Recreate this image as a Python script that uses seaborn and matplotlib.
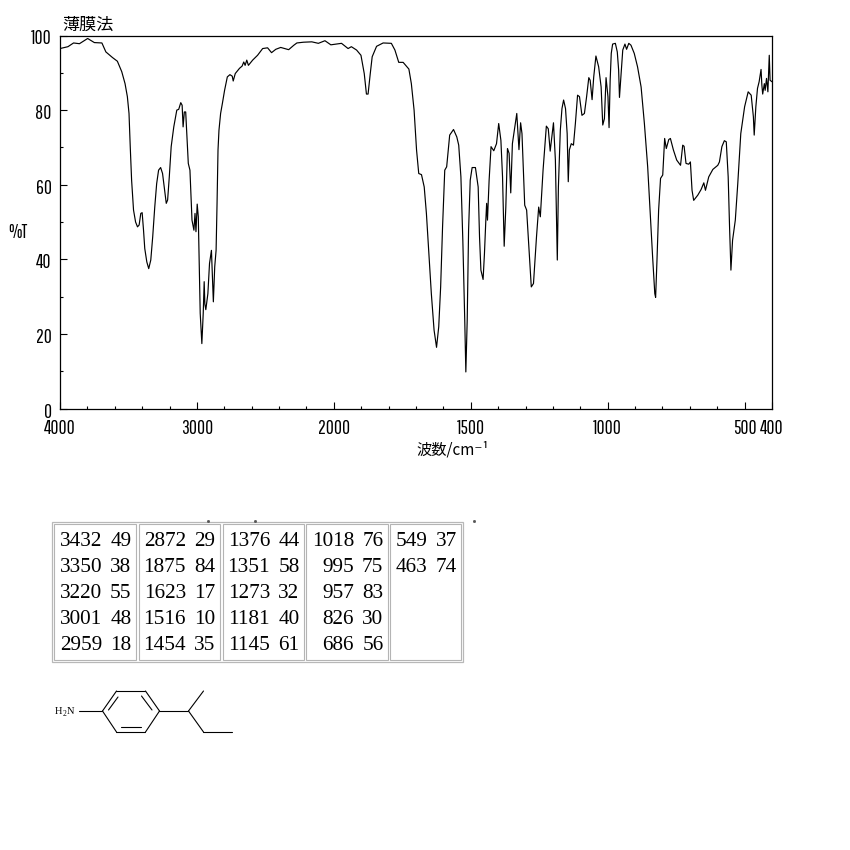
import numpy as np
import pandas as pd
import matplotlib
matplotlib.use("Agg")
import matplotlib.pyplot as plt
from matplotlib.patches import Rectangle
from matplotlib.ticker import FixedLocator, FixedFormatter
from matplotlib.transforms import ScaledTranslation
import seaborn as sns

# spectrum
wavenumber = [
    4000, 3942, 3901, 3858, 3798, 3749, 3694, 3665, 3617, 3581, 3549, 3525, 3508, 3496, 3487, 3477,
    3463, 3448, 3434, 3422, 3410, 3400, 3390, 3381, 3366, 3352, 3337, 3323, 3308, 3294, 3280, 3265,
    3251, 3236, 3224, 3214, 3202, 3188, 3169, 3147, 3133, 3118, 3108, 3101, 3092, 3082, 3072, 3063,
    3051, 3036, 3022, 3014, 3007, 2998, 2990, 2983, 2976, 2964, 2954, 2947, 2942, 2935, 2920, 2908,
    2894, 2887, 2880, 2870, 2860, 2853, 2846, 2839, 2827, 2814, 2798, 2778, 2759, 2742, 2735, 2720,
    2689, 2670, 2658, 2648, 2636, 2624, 2593, 2557, 2520, 2484, 2455, 2424, 2388, 2330, 2292, 2270,
    2222, 2161, 2113, 2065, 2022, 1972, 1948, 1936, 1917, 1901, 1889, 1881, 1875, 1867, 1860, 1844,
    1820, 1790, 1777, 1763, 1747, 1726, 1717, 1707, 1698, 1690, 1680, 1670, 1662, 1653, 1644, 1634,
    1625, 1617, 1610, 1603, 1595, 1588, 1577, 1563, 1551, 1544, 1536, 1529, 1522, 1518, 1513, 1508,
    1502, 1495, 1483, 1473, 1468, 1463, 1455, 1450, 1445, 1442, 1439, 1433, 1426, 1416, 1406, 1398,
    1390, 1384, 1378, 1372, 1366, 1360, 1354, 1348, 1332, 1324, 1318, 1313, 1303, 1296, 1288, 1279,
    1271, 1260, 1252, 1246, 1236, 1224, 1217, 1210, 1198, 1191, 1184, 1180, 1173, 1167, 1161, 1154,
    1148, 1144, 1140, 1133, 1125, 1118, 1110, 1103, 1094, 1085, 1077, 1069, 1064, 1057, 1051, 1043,
    1033, 1024, 1018, 1012, 1006, 999, 995, 991, 987, 982, 972, 965, 960, 957, 950, 945,
    937, 931, 923, 915, 903, 891, 878, 866, 854, 844, 836, 828, 825, 820, 814, 807,
    799, 792, 786, 777, 771, 760, 748, 734, 726, 721, 714, 704, 698, 692, 686, 671,
    659, 649, 643, 631, 616, 598, 592, 583, 574, 567, 560, 555, 550, 544, 534, 525,
    514, 500, 487, 476, 468, 465, 459, 453, 447, 440, 437, 434, 428, 425, 420, 415,
    410, 407, 400,
]
transmittance = [
    96.5, 97.0, 98.0, 97.8, 99.2, 98.1, 98.0, 95.6, 94.1, 93.1, 90.3, 87.1, 83.6, 79.1, 70.2, 61.2,
    53.2, 50.0, 48.7, 49.2, 52.3, 52.5, 47.8, 42.9, 39.3, 37.5, 39.8, 46.0, 54.0, 60.3, 63.9, 64.6,
    63.0, 58.5, 55.0, 55.9, 62.0, 70.2, 75.5, 80.0, 80.2, 82.0, 81.3, 75.5, 79.5, 79.5, 72.0, 65.7,
    63.9, 50.5, 47.8, 52.3, 47.4, 54.8, 51.4, 38.9, 25.5, 17.4, 25.5, 34.0, 28.0, 26.5, 30.8, 38.9,
    42.4, 35.3, 28.6, 38.0, 42.4, 55.0, 69.3, 74.6, 79.1, 81.8, 85.3, 88.9, 89.5, 89.1, 87.8, 89.8,
    91.2, 91.8, 92.9, 92.0, 93.4, 92.0, 93.4, 94.7, 96.5, 96.7, 95.4, 96.3, 96.8, 96.2, 97.4, 98.0,
    98.2, 98.3, 97.9, 98.6, 97.5, 97.9, 96.5, 97.0, 96.1, 94.7, 89.8, 84.3, 84.3, 89.8, 94.3, 97.1,
    98.0, 97.9, 96.1, 92.8, 92.8, 91.0, 87.1, 80.0, 69.3, 63.0, 62.7, 59.4, 52.3, 41.6, 30.8, 21.0,
    16.4, 21.9, 32.6, 48.7, 63.9, 64.8, 73.3, 74.8, 72.8, 70.6, 62.1, 45.1, 23.7, 9.8, 23.7, 47.8,
    61.2, 64.6, 64.6, 59.4, 46.0, 37.1, 34.6, 41.6, 50.5, 55.0, 50.5, 61.2, 70.2, 69.1, 71.0, 76.4,
    71.9, 62.1, 43.5, 54.0, 69.7, 68.4, 57.8, 71.0, 79.1, 69.4, 76.6, 73.7, 54.5, 53.2, 43.3, 32.6,
    33.5, 46.0, 54.0, 51.4, 63.9, 75.7, 75.0, 69.0, 76.6, 66.6, 39.8, 59.4, 74.6, 80.4, 82.7, 80.4,
    73.7, 60.8, 69.3, 71.0, 70.6, 76.4, 84.0, 83.6, 78.6, 79.1, 83.6, 88.7, 88.0, 82.8, 88.9, 94.5,
    91.6, 86.2, 76.0, 77.7, 88.7, 83.6, 75.3, 88.0, 95.2, 97.7, 97.9, 95.6, 90.7, 83.4, 90.7, 96.1,
    97.7, 96.3, 97.9, 97.4, 95.2, 91.6, 86.2, 76.4, 64.8, 51.4, 40.7, 30.8, 29.8, 39.8, 53.2, 61.7,
    62.6, 72.4, 69.7, 72.1, 72.4, 69.3, 66.6, 65.2, 70.6, 70.3, 65.7, 65.5, 66.1, 58.5, 55.8, 57.2,
    58.7, 60.5, 58.5, 62.1, 64.1, 65.2, 66.1, 70.2, 71.8, 71.5, 62.1, 48.7, 37.1, 45.1, 50.5, 60.3,
    73.7, 80.9, 84.9, 84.0, 78.2, 73.3, 80.9, 85.8, 87.6, 90.9, 86.7, 84.3, 87.1, 85.3, 88.5, 84.9,
    94.7, 88.0, 87.6,
]

x_major = [4000, 3000, 2000, 1500, 1000, 500, 400]
x_major_labels = ["4000", "3000", "2000", "1500", "1000", "500", "400"]
y_major = [0, 20, 40, 60, 80, 100]

# peak table, one list per column block
peak_wavenumbers = [
    [3432, 3350, 3220, 3001, 2959],
    [2872, 1875, 1623, 1516, 1454],
    [1376, 1351, 1273, 1181, 1145],
    [1018, 995, 957, 826, 686],
    [549, 463],
]
peak_values = [
    [49, 38, 55, 48, 18],
    [29, 84, 17, 10, 35],
    [44, 58, 32, 40, 61],
    [76, 75, 83, 30, 56],
    [37, 74],
]

sns.set_theme(style="white")
plt.rcParams["font.family"] = ["Pathway Gothic One", "Liberation Sans", "DejaVu Sans"]
cjk = ["Noto Sans CJK JP", "DejaVu Sans"]

df = pd.DataFrame({"wavenumber": wavenumber, "T": transmittance})


# the axis is compressed by two above 2000 cm-1
def forward(w):
    w = np.asarray(w, dtype=float)
    return np.where(w > 2000, 2000 + (w - 2000) / 2, w)


def inverse(v):
    v = np.asarray(v, dtype=float)
    return np.where(v > 2000, 2000 + (v - 2000) * 2, v)


fig = plt.figure(figsize=(8.5, 8.5), dpi=100)
ax = fig.add_axes([60 / 850, 1 - 408.5 / 850, 712 / 850, 373 / 850])
ax.set_xscale("function", functions=(forward, inverse))
sns.lineplot(data=df, x="wavenumber", y="T", sort=False, estimator=None,
             color="black", linewidth=0.85, ax=ax)
ax.set_xlim(4000, 400)
ax.set_ylim(0, 100)

ax.xaxis.set_major_locator(FixedLocator(x_major))
ax.xaxis.set_major_formatter(FixedFormatter(x_major_labels))
ax.xaxis.set_minor_locator(FixedLocator(list(range(3800, 2000, -200)) + list(range(1900, 400, -100))))
ax.yaxis.set_major_locator(FixedLocator(y_major))
ax.yaxis.set_minor_locator(FixedLocator(range(10, 100, 20)))
ax.tick_params(which="major", direction="in", length=5, width=0.8, color="black",
               labelsize=14, labelcolor="black", pad=7.5, bottom=True, left=True)
ax.tick_params(which="minor", direction="in", length=2.5, width=0.8, color="black",
               bottom=True, left=True)
ax.tick_params(axis="y", which="major", pad=6)
# y labels sit a little under their ticks
label_shift = ScaledTranslation(0, -1.5 / 100, fig.dpi_scale_trans)
for label in ax.get_yticklabels():
    label.set_transform(label.get_transform() + label_shift)
for spine in ax.spines.values():
    spine.set_color("black")
    spine.set_linewidth(0.9)
ax.set_xlabel("")
ax.set_ylabel("")

# overlay in pixel coordinates for the free text, table and structure
over = fig.add_axes([0, 0, 1, 1], facecolor="none")
over.set_xlim(0, 850)
over.set_ylim(850, 0)
over.axis("off")

over.text(62, 25, "薄膜法", family=cjk, fontsize=12.3, ha="left", va="center", color="black")
over.text(17.5, 232, "%T", fontsize=14, ha="center", va="center", color="black")
over.text(453, 449.5, "波数/cm⁻¹", family=cjk, fontsize=11, ha="center", va="center", color="black")

# table frames
over.add_patch(Rectangle((52.5, 522), 410.5, 139.5, fill=False, ec="#b8b8b8", lw=0.9))
cell_left = [54.5, 139, 223, 306.5, 390.5]
cell_right = [136.5, 220.5, 304.5, 388, 461.5]
num_right = [102.5, 186, 270, 354, 427.5]
val_right = [131.5, 215.5, 299.5, 383.5, 457]
row_y = [539, 565, 591, 617, 643]
for i in range(5):
    over.add_patch(Rectangle((cell_left[i], 524), cell_right[i] - cell_left[i], 135.5,
                             fill=False, ec="#b4b4b4", lw=0.8))
    for j in range(len(peak_wavenumbers[i])):
        over.text(num_right[i], row_y[j], str(peak_wavenumbers[i][j]), family="Liberation Serif",
                  fontsize=15.3, ha="right", va="center_baseline", color="black")
        over.text(val_right[i], row_y[j], str(peak_values[i][j]), family="Liberation Serif",
                  fontsize=15.3, ha="right", va="center_baseline", color="black")

# specks just above the table
over.plot([208, 255, 474], [520.5, 520.5, 520.5], ls="none", marker="s", ms=1, color="#555555")

# 4-sec-butylaniline structure
bonds = [
    ((79, 711), (102.5, 711)),
    ((102.5, 711), (116.5, 691)), ((116.5, 691), (145.5, 691)), ((145.5, 691), (159.5, 711)),
    ((159.5, 711), (145.5, 732)), ((145.5, 732), (116.5, 732)), ((116.5, 732), (102.5, 711)),
    ((108.5, 710), (118, 697)), ((141.5, 696), (152, 710)), ((121, 727), (141, 727)),
    ((159.5, 711), (188.5, 711)), ((188.5, 711), (203.5, 691)),
    ((188.5, 711), (203.5, 732)), ((203.5, 732), (232, 732)),
]
for a, b in bonds:
    over.plot([a[0], b[0]], [a[1], b[1]], color="black", lw=0.8)
over.text(55, 711.5, "H", family="Liberation Serif", fontsize=7.5, ha="left", va="center", color="black")
over.text(62.5, 714.5, "2", family="Liberation Serif", fontsize=5.5, ha="left", va="center", color="black")
over.text(67, 711.5, "N", family="Liberation Serif", fontsize=7.5, ha="left", va="center", color="black")

fig.savefig("out.png", dpi=100, facecolor="white")
